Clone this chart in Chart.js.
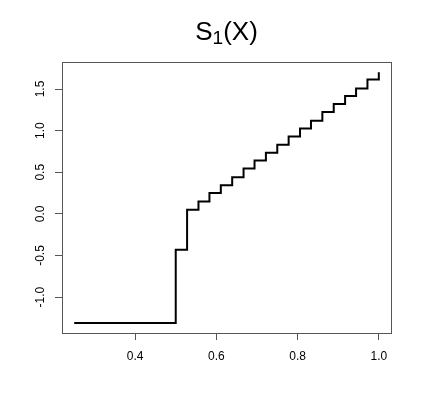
<!DOCTYPE html>
<html>
<head>
<meta charset="utf-8">
<script src="https://cdn.jsdelivr.net/npm/chart.js@4/dist/chart.umd.min.js"></script>
<style>
html,body{margin:0;padding:0;background:#fff;}
#wrap{width:423px;height:411px;position:relative;}
</style>
</head>
<body>
<div id="wrap"><canvas id="c" width="423" height="411"></canvas></div>
<script>
// Step positions (x) and levels (y)
const xValues = [0.25, 0.5, 0.528, 0.556, 0.583, 0.611, 0.639, 0.667, 0.694, 0.722,
                 0.75, 0.778, 0.806, 0.833, 0.861, 0.889, 0.917, 0.944, 0.972, 1.0];
const yValues = [-1.31, -0.43, 0.05, 0.15, 0.25, 0.345, 0.44, 0.545, 0.64, 0.735,
                 0.83, 0.93, 1.025, 1.12, 1.225, 1.32, 1.415, 1.505, 1.615, 1.70];
const xTicks = [0.4, 0.6, 0.8, 1.0];
const yTicks = [-1.0, -0.5, 0.0, 0.5, 1.0, 1.5];
const titleMain = "S";
const titleSub = "1";
const titleRest = "(X)";

const points = xValues.map((x, i) => ({x: x, y: yValues[i]}));

const FONT = "'Liberation Sans', Arial, sans-serif";

const framePlugin = {
  id: 'frame',
  afterDraw(chart) {
    const ctx = chart.ctx;
    const a = chart.chartArea;
    ctx.save();
    ctx.strokeStyle = '#555';
    ctx.lineWidth = 1;
    ctx.strokeRect(Math.round(a.left) + 0.5, Math.round(a.top) + 0.5,
                   Math.round(a.right - a.left), Math.round(a.bottom - a.top));
    // title with subscript
    const big = "26px " + FONT;
    const small = "19px " + FONT;
    ctx.fillStyle = '#000';
    ctx.textBaseline = 'alphabetic';
    ctx.textAlign = 'left';
    ctx.font = big;
    const w1 = ctx.measureText(titleMain).width;
    const w3 = ctx.measureText(titleRest).width;
    ctx.font = small;
    const w2 = ctx.measureText(titleSub).width;
    const total = w1 + w2 + w3;
    const cx = (a.left + a.right) / 2;
    let x = cx - total / 2;
    const base = 39.5;
    ctx.font = big;
    ctx.fillText(titleMain, x, base);
    x += w1;
    ctx.font = small;
    ctx.fillText(titleSub, x, base + 4);
    x += w2;
    ctx.font = big;
    ctx.fillText(titleRest, x, base);
    ctx.restore();
  }
};

new Chart(document.getElementById('c'), {
  type: 'line',
  data: {
    datasets: [{
      data: points,
      borderColor: '#000',
      borderWidth: 2,
      pointRadius: 0,
      stepped: 'before',
      tension: 0,
      fill: false
    }]
  },
  options: {
    responsive: false,
    animation: false,
    devicePixelRatio: 1,
    layout: { padding: { top: 62, right: 32, bottom: 0, left: 0 } },
    plugins: { legend: { display: false }, title: { display: false }, tooltip: { enabled: false } },
    scales: {
      x: {
        type: 'linear',
        min: 0.22, max: 1.03,
        afterBuildTicks: (s) => { s.ticks = xTicks.map(v => ({value: v})); },
        afterFit: (s) => { s.height = 78; },
        grid: { drawOnChartArea: false, drawTicks: true, tickLength: 7, color: '#555', lineWidth: 1 },
        border: { display: false },
        ticks: {
          color: '#000', padding: 9, maxRotation: 0, minRotation: 0,
          font: { family: FONT, size: 12 },
          callback: (v) => v.toFixed(1)
        }
      },
      y: {
        type: 'linear',
        min: -1.4305, max: 1.8245,
        afterBuildTicks: (s) => { s.ticks = yTicks.map(v => ({value: v})); },
        afterFit: (s) => { s.width = 62; },
        grid: { drawOnChartArea: false, drawTicks: true, tickLength: 7, color: '#555', lineWidth: 1 },
        border: { display: false },
        ticks: {
          color: '#000', padding: 4, minRotation: 90, maxRotation: 90, crossAlign: 'center',
          font: { family: FONT, size: 12 },
          callback: (v) => v.toFixed(1)
        }
      }
    }
  },
  plugins: [framePlugin]
});
</script>
</body>
</html>
